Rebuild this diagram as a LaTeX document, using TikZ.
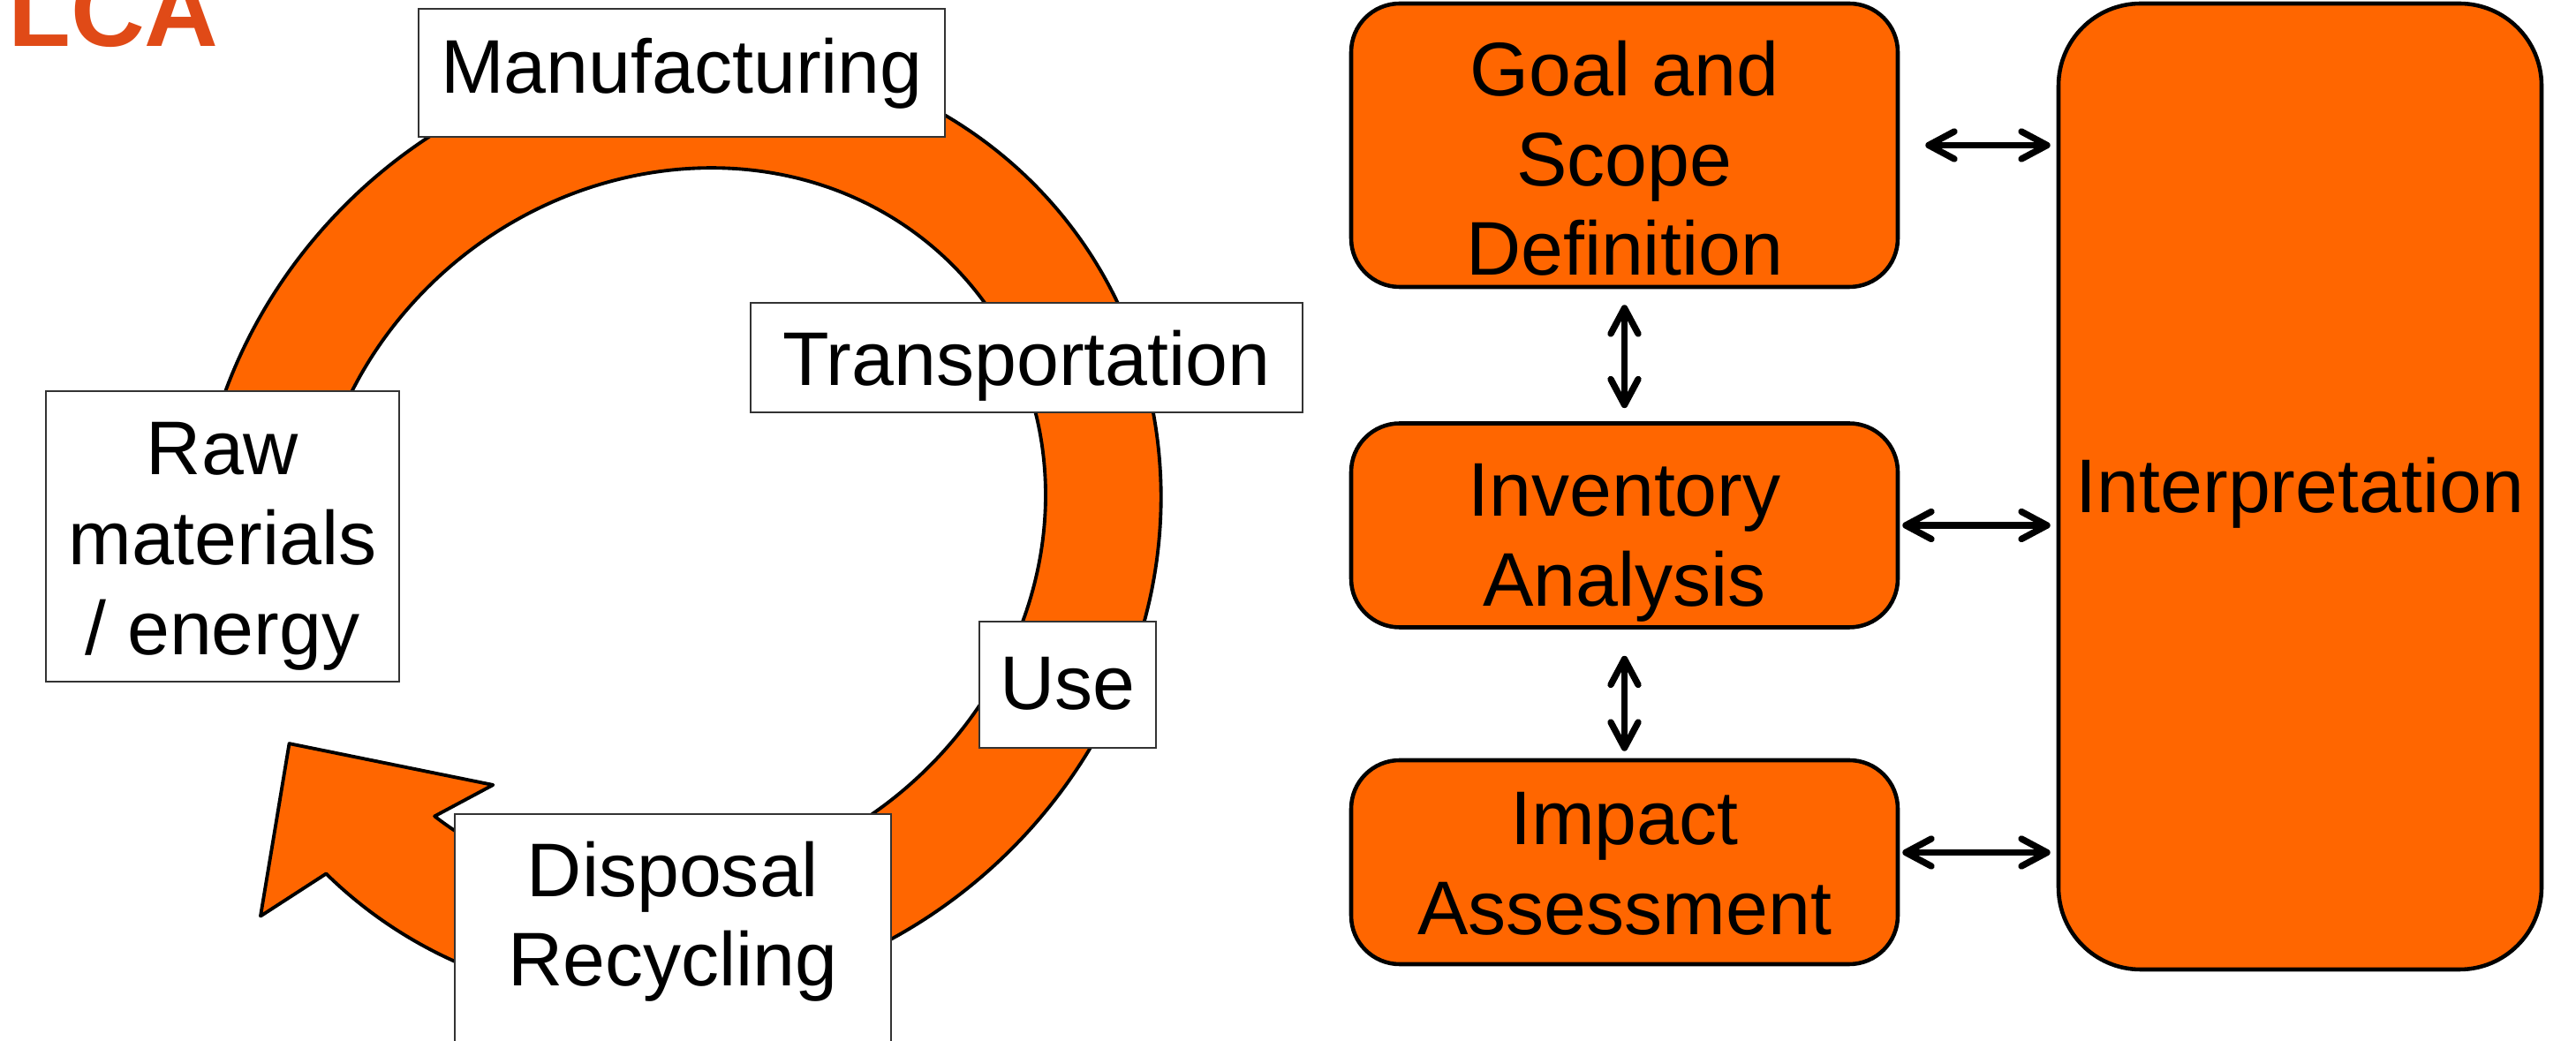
\documentclass[tikz,border=0pt]{standalone}
\usepackage{fontspec}
\setmainfont{Liberation Sans}
\usetikzlibrary{arrows.meta}
\definecolor{anaranjado}{HTML}{FF6600}
\definecolor{ladrillo}{HTML}{E04A17}

\begin{document}
\begin{tikzpicture}[
    etapa/.style={draw=black!80,line width=0.6pt,fill=white,inner sep=0pt,align=center,
      font=\fontsize{24.5}{29}\selectfont},
    fase/.style={draw=black,line width=1.3pt,fill=anaranjado,rounded corners=5.5mm,inner sep=0pt,
      align=center,font=\fontsize{24.5}{29}\selectfont},
    doble/.style={line width=2.1pt,
      {Straight Barb[length=2.9mm,width=3.1mm,round]}-{Straight Barb[length=2.9mm,width=3.1mm,round]}}
  ]

  \useasboundingbox (0,0) rectangle (29.17,-11.79);
  \clip (0,0) rectangle (29.17,-11.79);

  % anillo del ciclo con su punta
  \begin{scope}[shift={(7.68,-5.97)},rotate=38]
    \draw[fill=anaranjado,line width=1.1pt,line join=round]
      (152:5.60 and 5.24) arc[start angle=152,end angle=-173,x radius=5.60,y radius=5.24]
      -- (-6.44,-0.56) -- (-4.98,0.78) -- (-3.45,-1.01)
      -- (-167:4.30 and 3.92) arc[start angle=-167,end angle=152,x radius=4.30,y radius=3.92]
      -- cycle;
  \end{scope}

  \node[anchor=base west,inner sep=0pt,text=ladrillo,font=\fontsize{33}{38}\selectfont\bfseries]
    (titulo) at (0.085,-0.53) {LCA};

  \node[etapa,minimum width=5.96cm,minimum height=1.45cm,text height=7mm,text depth=2.4mm] (manuf) at (7.72,-0.825) {Manufacturing};
  \node[etapa,minimum width=6.25cm,minimum height=1.24cm,text height=7mm,text depth=0.6mm] (transp) at (11.625,-4.05) {Transportation};
  \node[etapa,minimum width=4cm,minimum height=3.29cm,text height=27.3mm,text depth=0.5mm] (raw) at (2.52,-6.075) {Raw\\materials\\/ energy};
  \node[etapa,minimum width=2cm,minimum height=1.43cm,text height=7mm,text depth=1.3mm] (use) at (12.09,-7.755) {Use};
  \node[etapa,minimum width=4.94cm,minimum height=3.58cm,text height=3.7mm,text depth=0.5mm] (disp) at (7.62,-11.01) {Disposal\\Recycling};

  \node[fase,minimum width=6.19cm,minimum height=3.21cm,text height=30mm,text depth=0.5mm] (goal) at (18.395,-1.645) {Goal and\\Scope\\Definition};
  \node[fase,minimum width=6.19cm,minimum height=2.31cm,text height=18.8mm,text depth=0.5mm] (inv) at (18.395,-5.95) {Inventory\\Analysis};
  \node[fase,minimum width=6.19cm,minimum height=2.31cm,text height=16.9mm,text depth=0.5mm] (impact) at (18.395,-9.765) {Impact\\Assessment};
  \node[fase,rounded corners=9.3mm,minimum width=5.47cm,minimum height=10.94cm,text height=7mm,text depth=1mm] (interp) at (26.045,-5.51) {Interpretation};

  \draw[doble,shorten <=2.9mm,shorten >=0.7mm] (goal.east) -- (goal.east -| interp.west);
  \draw[doble,shorten <=0.3mm,shorten >=0.7mm] (inv.east) -- (inv.east -| interp.west);
  \draw[doble,shorten <=0.3mm,shorten >=0.7mm] ([yshift=1.1mm]impact.east) -- ([yshift=1.1mm]impact.east -| interp.west);
  \draw[doble,shorten <=1.8mm,shorten >=1.5mm] (goal.south) -- (inv.north);
  \draw[doble,shorten <=3mm,shorten >=0.8mm] (inv.south) -- (impact.north);

\end{tikzpicture}
\end{document}
